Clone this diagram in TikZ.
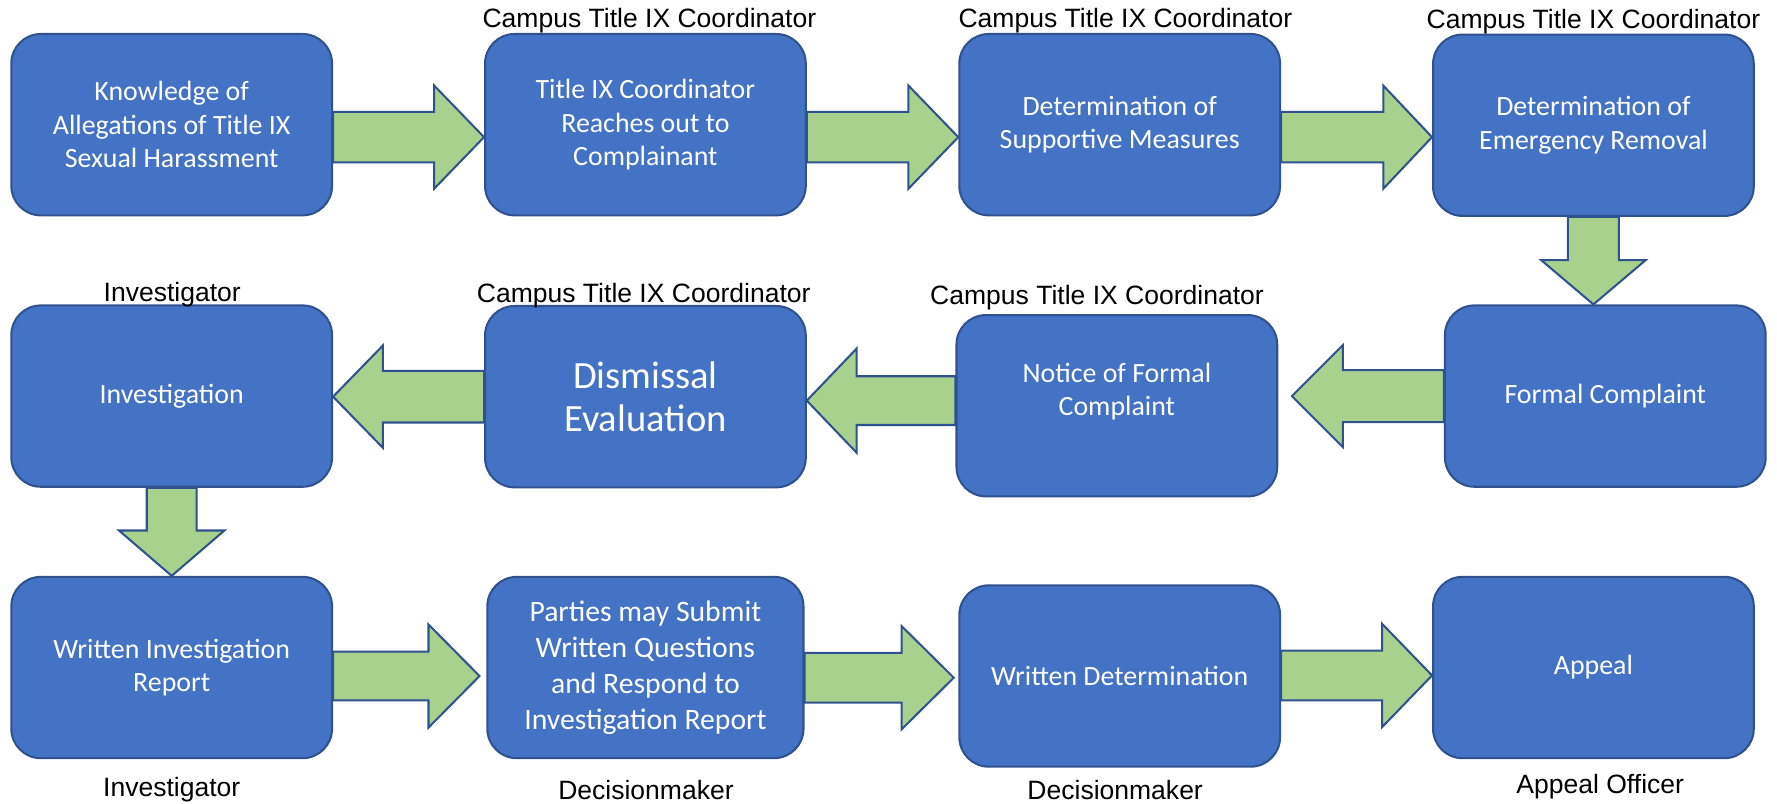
\documentclass[tikz,border=0pt]{standalone}
\usepackage{fontspec}
\setmainfont{Carlito}
\newfontfamily\labfont{Liberation Sans}
\usetikzlibrary{calc}
\definecolor{boxblue}{HTML}{4472C4}
\definecolor{edgeblue}{HTML}{2F528F}
\definecolor{arrgreen}{HTML}{A9D18E}
% #1 tail, #2 tip, #3 head length, #4 shaft half width, #5 head half width
\newcommand\blockarrow[5]{%
  \coordinate (hb) at ($(#2)!#3!(#1)$);
  \draw[blockarr] ($(#1)!#4!90:(#2)$) -- ($(hb)!#4!90:(#2)$) -- ($(hb)!#5!90:(#2)$)
    -- (#2) -- ($(hb)!#5!-90:(#2)$) -- ($(hb)!#4!-90:(#2)$) -- ($(#1)!#4!-90:(#2)$) -- cycle;}
\tikzset{
  box/.style={draw=edgeblue, fill=boxblue, line width=0.9pt, rounded corners=13pt,
    text=white, align=center, inner sep=0pt, minimum width=141.5pt, minimum height=80pt,
    font=\fontsize{12.3}{14.7}\selectfont},
  blockarr/.style={draw=edgeblue, fill=arrgreen, line width=0.9pt, line join=miter},
  role/.style={font=\labfont\fontsize{11.7}{14}\selectfont, anchor=base, inner sep=0pt}
}
\begin{document}
\begin{tikzpicture}[x=0.5pt,y=-0.5pt]
\useasboundingbox (0,0) rectangle (1568,709);
% boxes
\node[box] (b1) at (151.5,110) {Knowledge of\\Allegations of Title IX\\Sexual Harassment};
\node[box] (b2) at (569.5,110) {Title IX Coordinator\\Reaches out to\\Complainant};
\node[box] (b3) at (988,110) {Determination of\\Supportive Measures};
\node[box] (b4) at (1406,110.5) {Determination of\\Emergency Removal};
\node[box] (fc) at (1416.5,349.5) {Formal Complaint};
\node[box] (nt) at (985.5,358) {Notice of Formal\\Complaint\\\mbox{}};
\node[box, font=\fontsize{17}{19}\selectfont] (ds) at (569.5,350) {Dismissal\\Evaluation};
\node[box] (iv) at (151.5,349.5) {Investigation};
\node[box] (wr) at (151.5,589) {Written Investigation\\Report};
\node[box, minimum width=139.5pt, font=\fontsize{13.1}{15.9}\selectfont] (pt) at (569.5,589) {Parties may Submit\\Written Questions\\and Respond to\\Investigation Report};
\node[box] (wd) at (988,596.5) {Written Determination};
\node[box] (ap) at (1406,589) {Appeal};
% role labels
\node[role] (r2) at (573,24) {Campus Title IX Coordinator};
\node[role] (r3) at (993,24) {Campus Title IX Coordinator};
\node[role] (r4) at (1406,25) {Campus Title IX Coordinator};
\node[role] (r6) at (968,269) {Campus Title IX Coordinator};
\node[role] (r7) at (568,266.5) {Campus Title IX Coordinator};
\node[role] (r8) at (152,266) {Investigator};
\node[role] (r9) at (151.5,703) {Investigator};
\node[role] (r10) at (570,705.5) {Decisionmaker};
\node[role] (r11) at (984,705.5) {Decisionmaker};
\node[role] (r12) at (1412,700) {Appeal Officer};
% connector end points
\coordinate (a1s) at ($(b1.east)+(0,11)$);
\coordinate (a1t) at (b2.west |- a1s);
\coordinate (a2s) at ($(b2.east)+(0,11)$);
\coordinate (a2t) at (b3.west |- a2s);
\coordinate (a3s) at ($(b3.east)+(0,11)$);
\coordinate (a3t) at (b4.west |- a3s);
\coordinate (d1s) at (b4.south);
\coordinate (d1t) at (d1s |- fc.north);
\coordinate (l1s) at (fc.west);
\coordinate (l1t) at ($(nt.east |- l1s)+(12,0)$);
\coordinate (l2s) at ($(nt.west)+(0,-4.5)$);
\coordinate (l2t) at (ds.east |- l2s);
\coordinate (l3s) at (ds.west);
\coordinate (l3t) at (iv.east |- l3s);
\coordinate (d2s) at (iv.south);
\coordinate (d2t) at (wr.north);
\coordinate (r1s) at ($(wr.east)+(0,7.5)$);
\coordinate (r1t) at ($(pt.west |- r1s)+(-6,0)$);
\coordinate (r2s) at ($(pt.east)+(0,9)$);
\coordinate (r2t) at ($(wd.west |- r2s)+(-4,0)$);
\coordinate (r3s) at ($(wd.east)+(0,-0.5)$);
\coordinate (r3t) at (ap.west |- r3s);
% block arrows
\blockarrow{a1s}{a1t}{22pt}{11.1pt}{22.75pt}
\blockarrow{a2s}{a2t}{22pt}{11.1pt}{22.75pt}
\blockarrow{a3s}{a3t}{21.5pt}{11.1pt}{22.75pt}
\blockarrow{d1s}{d1t}{19.5pt}{11.25pt}{23pt}
\blockarrow{l1s}{l1t}{22.5pt}{11.5pt}{22.5pt}
\blockarrow{l2s}{l2t}{22pt}{10.75pt}{23pt}
\blockarrow{l3s}{l3t}{22pt}{11.4pt}{22.6pt}
\blockarrow{d2s}{d2t}{20pt}{11pt}{23.25pt}
\blockarrow{r1s}{r1t}{22.5pt}{10.75pt}{22.75pt}
\blockarrow{r2s}{r2t}{23pt}{11pt}{22.75pt}
\blockarrow{r3s}{r3t}{22pt}{11pt}{22.75pt}
\end{tikzpicture}
\end{document}
